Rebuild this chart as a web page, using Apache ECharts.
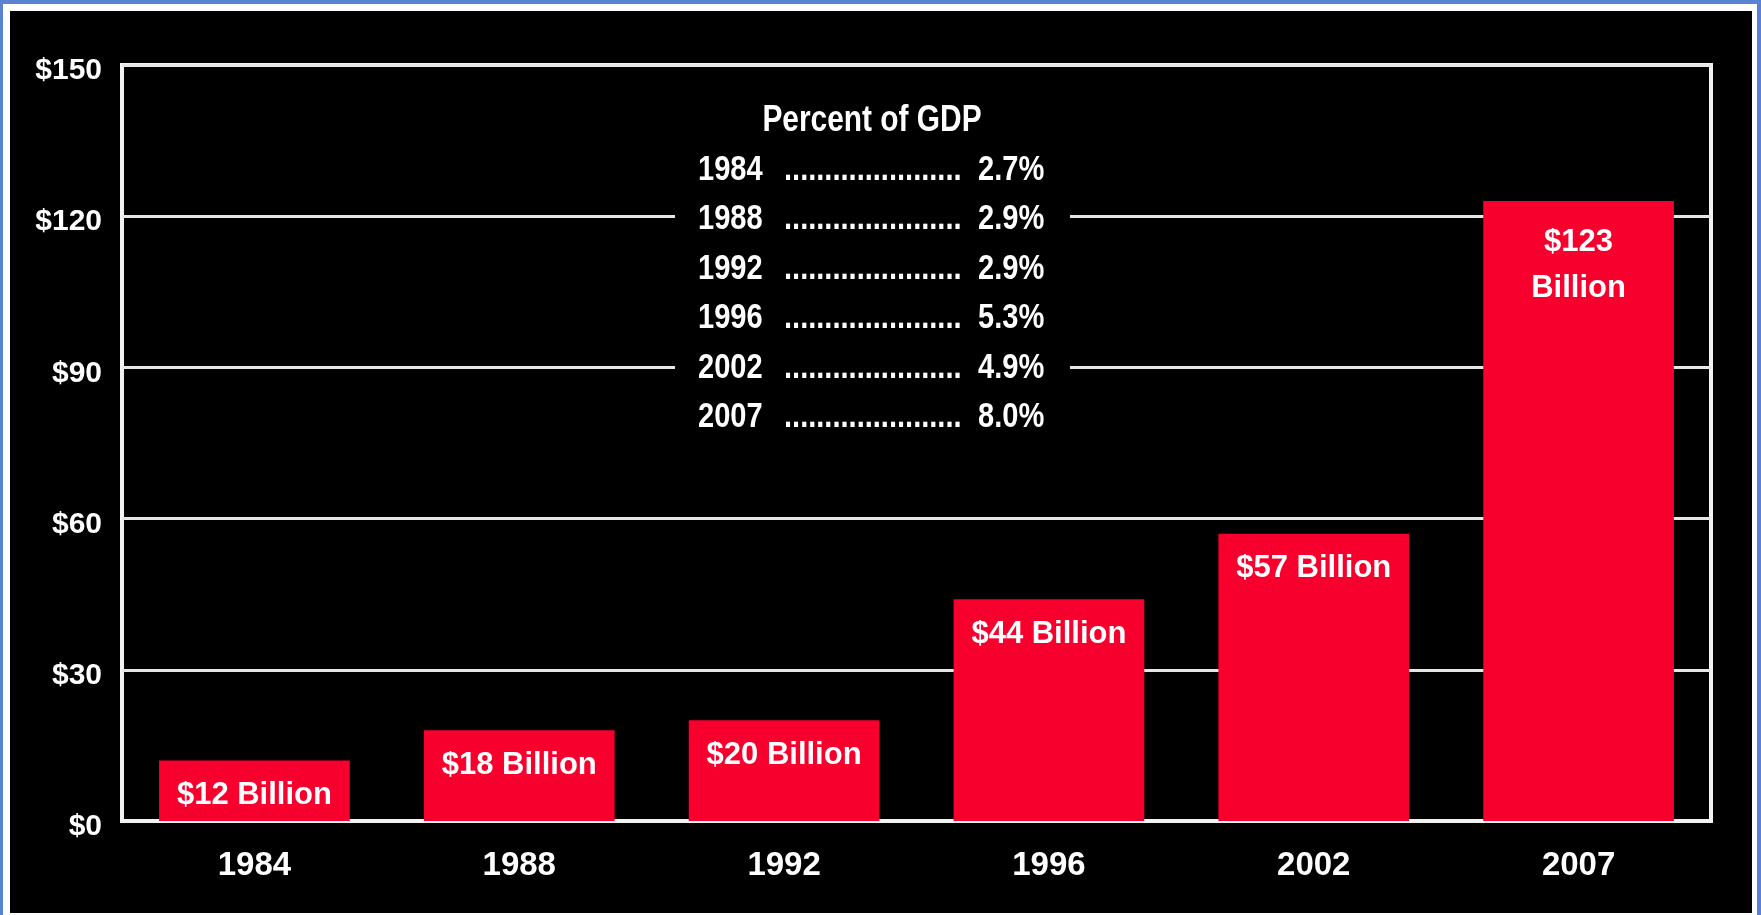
<!DOCTYPE html>
<html>
<head>
<meta charset="utf-8">
<title>Percent of GDP</title>
<script src="https://cdn.jsdelivr.net/npm/echarts@6/dist/echarts.min.js"></script>
<style>
    body{margin:0;background:#fff;}
    #outer{position:absolute;left:0;top:0;width:1761px;height:915px;box-sizing:border-box;
        border-top:4px solid #5a82d2;border-left:3px solid #5a82d2;border-right:4px solid #5a82d2;background:#fff;}
    #black{position:absolute;left:10px;top:11px;width:1742px;height:902px;background:#000;}
    #main{position:absolute;left:0;top:0;width:1761px;height:915px;}
</style>
</head>
<body>
<div id="outer"></div>
<div id="black"></div>
<div id="main"></div>
<script>
var years = ['1984', '1988', '1992', '1996', '2002', '2007'];
var spending = [12, 18, 20, 44, 57, 123];   // billions of dollars
var gdpYears = ['1984', '1988', '1992', '1996', '2002', '2007'];
var gdpPercent = ['2.7%', '2.9%', '2.9%', '5.3%', '4.9%', '8.0%'];
var yTicks = [0, 30, 60, 90, 120, 150];

var font = "'Liberation Sans Narrow', 'Arial Narrow', 'Liberation Sans', sans-serif";
var squeeze = 0.83;   // no narrow font installed, so condense the box text by hand

var chart = echarts.init(document.getElementById('main'));

// 'Percent of GDP' box in the middle of the plot
var box = [
    {
        type: 'rect',
        left: 675, top: 88, z: 10,
        shape: {width: 395, height: 350},
        style: {fill: '#000'}
    },
    {
        type: 'text',
        x: 872, y: 121, z: 11, scaleX: squeeze,
        style: {text: 'Percent of GDP', fill: '#fff', font: 'bold 36px ' + font, align: 'center', verticalAlign: 'middle'}
    }
];
gdpYears.forEach(function(y, i){
    var cy = 170 + i * 49.5;
    box.push({
        type: 'text', x: 698, y: cy, z: 11, scaleX: squeeze,
        style: {text: y, fill: '#fff', font: 'bold 35px ' + font, verticalAlign: 'middle'}
    });
    box.push({
        type: 'text', x: 784, y: cy, z: 11, scaleX: squeeze,
        style: {text: '......................', fill: '#fff', font: 'bold 35px ' + font, verticalAlign: 'middle'}
    });
    box.push({
        type: 'text', x: 978, y: cy, z: 11, scaleX: squeeze,
        style: {text: gdpPercent[i], fill: '#fff', font: 'bold 35px ' + font, verticalAlign: 'middle'}
    });
});

// the tall bar carries a two-line label set a little lower
var barData = spending.map(function(v){
    return v > 100 ? {value: v, label: {distance: 18}} : v;
});

var option = {
    backgroundColor: 'transparent',
    animation: false,
    grid: {
        left: 122,
        right: 50,
        top: 65,
        bottom: 94,
        show: true,
        borderColor: '#f2f2f2',
        borderWidth: 4
    },
    xAxis: {
        type: 'category',
        data: years,
        axisLine: {lineStyle: {color: '#f2f2f2', width: 4}},
        axisTick: {show: false},
        axisLabel: {color: '#fff', fontFamily: font, fontWeight: 'bold', fontSize: 33, margin: 28}
    },
    yAxis: {
        type: 'value',
        min: yTicks[0],
        max: yTicks[yTicks.length - 1],
        interval: 30,
        axisLine: {show: false},
        axisTick: {show: false},
        splitLine: {lineStyle: {color: '#e6e6e6', width: 3}},
        axisLabel: {
            color: '#fff', fontFamily: font, fontWeight: 'bold', fontSize: 30, margin: 20,
            // labels sit a few pixels below their grid lines
            verticalAlign: 'top', lineHeight: 12,
            formatter: function(v){ return '$' + v; }
        }
    },
    series: [
        {
            type: 'bar',
            data: barData,
            barWidth: '72%',
            itemStyle: {color: '#f7002e'},
            label: {
                show: true,
                position: 'insideTop',
                distance: 12,
                color: '#fff',
                fontFamily: font,
                fontWeight: 'bold',
                fontSize: 31,
                lineHeight: 46,
                formatter: function(p){
                    return p.value > 100 ? '$' + p.value + '\nBillion' : '$' + p.value + ' Billion';
                }
            }
        }
    ],
    graphic: box
};
chart.setOption(option);
</script>
</body>
</html>
